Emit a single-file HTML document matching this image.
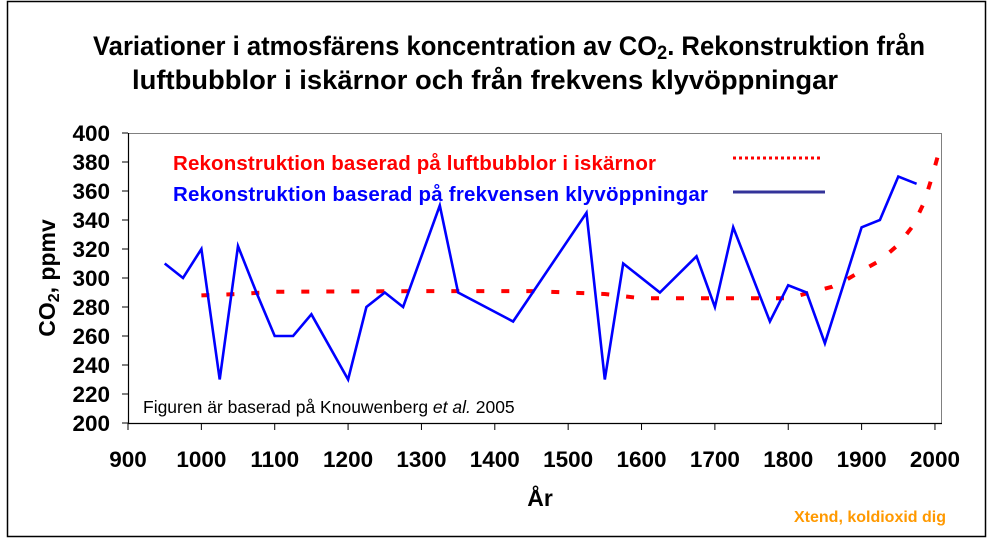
<!DOCTYPE html>
<html><head><meta charset="utf-8"><style>
body{margin:0;background:#fff;}
svg{display:block;font-family:"Liberation Sans",Arial,sans-serif;}
</style></head><body>
<svg width="997" height="539" viewBox="0 0 997 539" xmlns="http://www.w3.org/2000/svg">
<rect x="0" y="0" width="997" height="539" fill="#fff"/>
<rect x="7.5" y="1.5" width="978" height="535" fill="none" stroke="#000" stroke-width="1.5"/>
<text x="93" y="55" font-size="27" font-weight="bold" textLength="832" lengthAdjust="spacingAndGlyphs">Variationer i atmosfärens koncentration av CO<tspan font-size="19" dy="4">2</tspan><tspan dy="-4">. Rekonstruktion från</tspan></text>
<text x="132" y="89" font-size="27" font-weight="bold" textLength="706" lengthAdjust="spacingAndGlyphs">luftbubblor i iskärnor och från frekvens klyvöppningar</text>
<rect x="128.5" y="133.5" width="813" height="290" fill="none" stroke="#808080" stroke-width="1"/>
<g stroke="#000" stroke-width="1.2">
<line x1="128.5" y1="133" x2="128.5" y2="424"/>
<line x1="128" y1="423.5" x2="942" y2="423.5"/>
</g>
<g stroke="#000" stroke-width="1" id="ticks"></g>
<g font-size="22.5" font-weight="bold" text-anchor="end" id="yl"></g>
<g font-size="22.5" font-weight="bold" text-anchor="middle" id="xl"></g>
<text x="55" y="278" font-size="23" font-weight="bold" text-anchor="middle" transform="rotate(-90 55 278)">CO<tspan font-size="16" dy="4">2</tspan><tspan dy="-4">, ppmv</tspan></text>
<text x="540" y="506" font-size="23" font-weight="bold" text-anchor="middle">År</text>
<text x="173" y="170" font-size="20.5" font-weight="bold" fill="#ff0000" textLength="483" lengthAdjust="spacing">Rekonstruktion baserad på luftbubblor i iskärnor</text>
<text x="173" y="201" font-size="20.5" font-weight="bold" fill="#0000ff" textLength="535" lengthAdjust="spacing">Rekonstruktion baserad på frekvensen klyvöppningar</text>
<line x1="733" y1="158" x2="823" y2="158" stroke="#ff0000" stroke-width="3" stroke-dasharray="3,3"/>
<line x1="733" y1="192" x2="825" y2="192" stroke="#333399" stroke-width="3"/>
<text x="143" y="413" font-size="17.5">Figuren är baserad på Knouwenberg <tspan font-style="italic">et al.</tspan>  2005</text>
<text x="946" y="522" font-size="16" font-weight="bold" fill="#ff9900" text-anchor="end">Xtend, koldioxid dig</text>
<polyline id="red" fill="none" stroke="#ff0000" stroke-width="4" stroke-dasharray="8,17"/>
<polyline id="blue" fill="none" stroke="#0000ff" stroke-width="2.6" stroke-linejoin="miter"/>
</svg>
<script>
function X(y){return 128+(y-900)*0.7336;}
function Y(v){return 423-(v-200)*1.45;}
var ns="http://www.w3.org/2000/svg";
var t=document.getElementById('ticks'),yl=document.getElementById('yl'),xl=document.getElementById('xl');
for(var v=200;v<=400;v+=20){var l=document.createElementNS(ns,'line');l.setAttribute('x1',122);l.setAttribute('x2',128);l.setAttribute('y1',Y(v));l.setAttribute('y2',Y(v));t.appendChild(l);
var s=document.createElementNS(ns,'text');s.setAttribute('x',110);s.setAttribute('y',Y(v)+8);s.textContent=v;yl.appendChild(s);}
for(var y=900;y<=2000;y+=100){var l=document.createElementNS(ns,'line');l.setAttribute('x1',X(y));l.setAttribute('x2',X(y));l.setAttribute('y1',423);l.setAttribute('y2',430);t.appendChild(l);
var s=document.createElementNS(ns,'text');s.setAttribute('x',X(y));s.setAttribute('y',467);s.textContent=y;xl.appendChild(s);}
var b=[[950,310],[975,300],[1000,320],[1025,230],[1050,322],[1075,290],[1100,260],[1125,260],[1150,275],[1200,230],[1225,280],[1250,290],[1275,280],[1325,350],[1350,290],[1425,270],[1525,345],[1550,230],[1575,310],[1625,290],[1675,315],[1700,280],[1725,335],[1775,270],[1800,295],[1825,290],[1850,255],[1900,335],[1925,340],[1950,370],[1975,365]];
var r=[[1000,288],[1050,289],[1100,290.5],[1300,291],[1450,291],[1500,290],[1550,289],[1600,286],[1800,286],[1830,290],[1860,294],[1880,299],[1900,305],[1925,312],[1950,323],[1970,336],[1985,352],[1995,368],[2005,386]];
function pts(a){return a.map(function(p){return X(p[0]).toFixed(1)+','+Y(p[1]).toFixed(1)}).join(' ');}
document.getElementById('blue').setAttribute('points',pts(b));
document.getElementById('red').setAttribute('points',pts(r));
</script>
</body></html>
